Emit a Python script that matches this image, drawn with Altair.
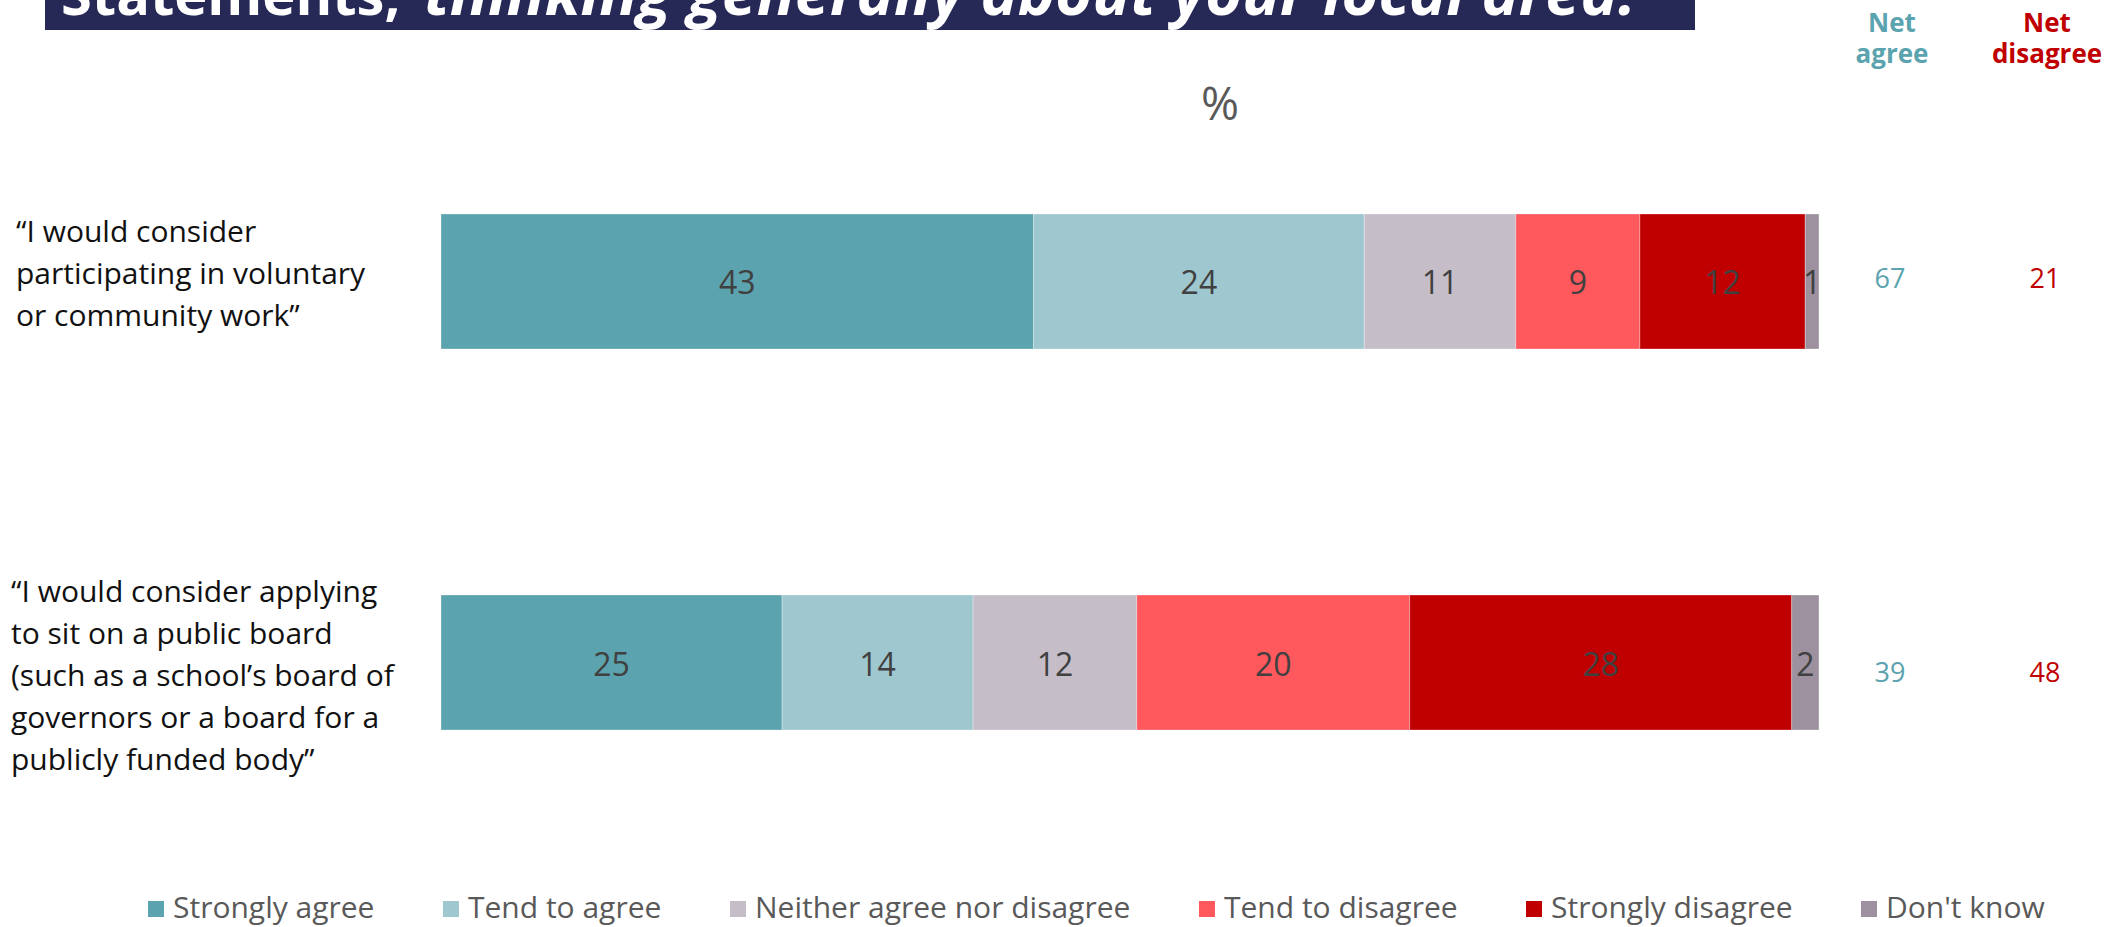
import altair as alt
import pandas as pd

# ---------------- data ----------------
question_keys = ["q1", "q2"]
question_labels = [
    "\u201cI would consider\nparticipating in voluntary\nor community work\u201d",
    "\u201cI would consider applying\nto sit on a public board\n(such as a school\u2019s board of\ngovernors or a board for a\npublicly funded body\u201d",
]
categories = ["Strongly agree", "Tend to agree", "Neither agree nor disagree",
              "Tend to disagree", "Strongly disagree", "Don't know"]
colors = ["#5BA3AE", "#9FC7CF", "#C5BEC9", "#FF585D", "#C00000", "#9D919F"]
q1_values = [43, 24, 11, 9, 12, 1]
q2_values = [25, 14, 12, 20, 28, 2]
net_agree = [67, 39]
net_disagree = [21, 48]

FONT = "Open Sans"

rows = []
for q, vals in zip(question_keys, [q1_values, q2_values]):
    for i, (c, v) in enumerate(zip(categories, vals)):
        rows.append({"q": q, "cat": c, "order": i, "v": v})
df = pd.DataFrame(rows)

df_q = pd.DataFrame({"q": question_keys, "label": question_labels,
                     "na": net_agree, "nd": net_disagree})

xs = alt.Scale(domain=[0, 1], range=[441, 1819])
ys = alt.Scale(domain=question_keys, range=[214, 730], paddingInner=0.6457, paddingOuter=0)

base = alt.Chart(df).transform_stack(
    stack="v", groupby=["q"], as_=["v0", "v1"], offset="normalize",
    sort=[alt.SortField("order", order="ascending")]
).transform_calculate(mid="(datum.v0 + datum.v1) / 2")

bars = base.mark_bar(stroke="white", strokeWidth=0.5, strokeOpacity=0.6).encode(
    x=alt.X("v0:Q", scale=xs, axis=None),
    x2="v1:Q",
    y=alt.Y("q:N", scale=ys, axis=None),
    color=alt.Color("cat:N", scale=alt.Scale(domain=categories, range=colors),
                    legend=alt.Legend(orient="none", legendX=141, legendY=894,
                                      direction="horizontal", title=None,
                                      symbolType="square", symbolSize=256,
                                      symbolStrokeWidth=0, labelFontSize=30,
                                      labelFont=FONT, labelColor="#595959",
                                      labelOffset=2, labelLimit=800,
                                      columnPadding=61)),
    order=alt.Order("order:Q"),
)

seg_text = base.mark_text(font=FONT, fontSize=32, color="#404040", dy=3).encode(
    x=alt.X("mid:Q", scale=xs, axis=None),
    y=alt.Y("q:N", scale=ys, axis=None),
    text="v:Q",
)

# per-question layout tweaks (label x, first-line offset, net value offset)
label_x = [16, 11]
label_dy = [-48, -70]
net_dy = [-1, 11]

side_layers = []
for i, q in enumerate(question_keys):
    sub = df_q[df_q["q"] == q]
    side_layers.append(
        alt.Chart(sub).mark_text(font=FONT, fontSize=30, color="#111111", align="left",
                                 baseline="middle", lineBreak="\n", lineHeight=42,
                                 dy=label_dy[i]).encode(
            x=alt.value(label_x[i]),
            y=alt.Y("q:N", scale=ys, axis=None),
            text="label:N",
        ))
    side_layers.append(
        alt.Chart(sub).mark_text(font=FONT, fontSize=27, color="#5BA3AE", dy=net_dy[i]).encode(
            x=alt.value(1890), y=alt.Y("q:N", scale=ys, axis=None), text="na:Q"))
    side_layers.append(
        alt.Chart(sub).mark_text(font=FONT, fontSize=27, color="#C00000", dy=net_dy[i]).encode(
            x=alt.value(2045), y=alt.Y("q:N", scale=ys, axis=None), text="nd:Q"))

hdr = pd.DataFrame({"t": ["Net\nagree", "Net\ndisagree"]})
hdr_a = alt.Chart(hdr.iloc[[0]]).mark_text(font=FONT, fontSize=26, fontWeight="bold",
                                          baseline="alphabetic", lineBreak="\n", lineHeight=31,
                                          color="#5BA3AE").encode(
    x=alt.value(1892), y=alt.value(32), text="t:N")
hdr_d = alt.Chart(hdr.iloc[[1]]).mark_text(font=FONT, fontSize=26, fontWeight="bold",
                                          baseline="alphabetic", lineBreak="\n", lineHeight=31,
                                          color="#C00000").encode(
    x=alt.value(2047), y=alt.value(32), text="t:N")

pct = alt.Chart(pd.DataFrame({"t": ["%"]})).mark_text(font=FONT, fontSize=46, color="#595959",
                                                     baseline="middle").encode(
    x=alt.value(1220), y=alt.value(106), text="t:N")

title_box = alt.Chart(pd.DataFrame({"t": [""]})).mark_rect(color="#262856").encode(
    x=alt.value(45), x2=alt.value(1695), y=alt.value(0), y2=alt.value(30))
title_a = alt.Chart(pd.DataFrame({"t": ["Statements,"]})).mark_text(
    font=FONT, fontSize=56, fontWeight="bold", color="white", align="left",
    baseline="alphabetic").encode(x=alt.value(61), y=alt.value(15), text="t:N")
title_b = alt.Chart(pd.DataFrame({"t": ["thinking generally about your local area."]})).mark_text(
    font=FONT, fontSize=63, fontWeight="bold", fontStyle="italic", color="white", align="left",
    baseline="alphabetic").encode(x=alt.value(424), y=alt.value(15), text="t:N")

chart = alt.layer(
    title_box, title_a, title_b, pct, hdr_a, hdr_d,
    bars, seg_text, *side_layers
).properties(
    width=2125, height=927, padding=0, autosize="none", background="white"
).configure_view(stroke=None)

chart.save("out.html", embed_options={"renderer": "svg", "actions": False})
